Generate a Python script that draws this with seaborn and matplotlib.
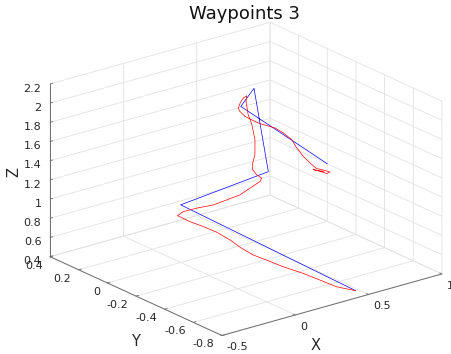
import numpy as np
import matplotlib
matplotlib.use("Agg")
import matplotlib.pyplot as plt
import seaborn as sns
from mpl_toolkits.mplot3d import proj3d

sns.set_theme(style="white")
plt.rcParams['font.family'] = ['DejaVu Sans']
plt.rcParams['axes.unicode_minus'] = False

# ---------------- data ----------------
title = "Waypoints 3"

# waypoints (blue)
wp_x = [0.48, 0.0, 0.5, 0.5, 0.41, 1.0]
wp_y = [-0.73, 0.0, -0.1, 0.0, 0.0, 0.0]
wp_z = [0.40, 1.0, 1.2, 2.0, 1.85, 1.0]

# flown trajectory (red)
tr_x = [0.48, 0.384, 0.329, 0.274, 0.195, 0.140, 0.093, 0.074, 0.068, 0.047,
        0.004, -0.044, -0.069, -0.020, 0.041, 0.107, 0.181, 0.256, 0.340, 0.423,
        0.448, 0.422, 0.410, 0.415, 0.431, 0.444, 0.443, 0.436, 0.437, 0.444,
        0.435, 0.411, 0.393, 0.404, 0.439, 0.529, 0.643, 0.700, 0.757, 0.791,
        0.836, 0.893, 0.927, 0.984, 1.018, 0.995, 0.961, 0.904, 0.936, 0.977]
tr_y = [-0.73, -0.696, -0.636, -0.575, -0.517, -0.457, -0.412, -0.350, -0.275, -0.204,
        -0.154, -0.110, -0.048, -0.039, -0.070, -0.119, -0.136, -0.152, -0.136, -0.121,
        -0.107, -0.098, -0.083, -0.078, -0.077, -0.064, -0.042, -0.025, -0.009, -0.006,
        0.009, 0.006, 0.000, 0.000, 0.0, 0.0, 0.0, 0.0, 0.0, 0.0,
        0.0, 0.0, 0.0, 0.0, 0.0, 0.0, 0.0, 0.0, 0.0, 0.0]
tr_z = [0.40, 0.458, 0.510, 0.562, 0.625, 0.677, 0.719, 0.755, 0.793, 0.834,
        0.877, 0.919, 0.950, 0.965, 0.996, 1.035, 1.067, 1.098, 1.122, 1.145,
        1.160, 1.200, 1.247, 1.311, 1.390, 1.532, 1.684, 1.769, 1.893, 1.950,
        1.920, 1.880, 1.840, 1.800, 1.733, 1.626, 1.526, 1.450, 1.356, 1.255,
        1.148, 1.038, 0.982, 0.937, 0.905, 0.901, 0.933, 0.981, 0.957, 0.930]

x_ticks = [-0.5, 0, 0.5, 1]
x_labels = ['-0.5', '0', '0.5', '1']
y_ticks = [-0.8, -0.6, -0.4, -0.2, 0, 0.2, 0.4]
y_labels = ['-0.8', '-0.6', '-0.4', '-0.2', '0', '0.2', '0.4']
z_ticks = [0.4, 0.6, 0.8, 1.0, 1.2, 1.4, 1.6, 1.8, 2.0, 2.2]
z_labels = ['0.4', '0.6', '0.8', '1', '1.2', '1.4', '1.6', '1.8', '2', '2.2']

# ---------------- figure ----------------
W, H = 452, 354
fig = plt.figure(figsize=(W / 100, H / 100), dpi=100)
fig.patch.set_facecolor('white')

S0 = 330.0
C0 = (246.0, H - 178.5)
ax = fig.add_axes([(C0[0] - S0 / 2) / W, (C0[1] - S0 / 2) / H, S0 / W, S0 / H],
                  projection='3d', proj_type='ortho')
ax.view_init(elev=21, azim=-128)
ax.set_box_aspect((1, 1, 0.663))

pal = sns.color_palette(['#0000ff', '#ff0000'])
ax.plot(wp_x, wp_y, wp_z, color=pal[0], lw=0.5)
ax.plot(tr_x, tr_y, tr_z, color=pal[1], lw=0.5)

ax.set_xlim(-0.5, 1.0)
ax.set_ylim(-0.8, 0.4)
ax.set_zlim(0.4, 2.2)
ax.set_xticks(x_ticks)
ax.set_xticklabels(x_labels, ha='left')
ax.set_yticks(y_ticks)
ax.set_yticklabels(y_labels, ha='right', va='center_baseline')
ax.set_zticks(z_ticks)
ax.set_zticklabels(z_labels, ha='right')

txt = '#262626'
gridc = '#e2e2e2'
axc = '#6e6e6e'
for axis in (ax.xaxis, ax.yaxis, ax.zaxis):
    axis.set_pane_color((1, 1, 1, 0))
    axis.pane.set_edgecolor(gridc)
    axis.pane.set_linewidth(0.6)
    axis.line.set_color(axc)
    axis.line.set_linewidth(0.7)
    axis._axinfo['grid'].update(color=gridc, linewidth=0.6)
    axis._axinfo['tick'].update(inward_factor=0.0, outward_factor=0.15,
                                color=axc, linewidth={True: 0.6, False: 0.4})
    axis.set_tick_params(labelsize=8, labelcolor=txt, color=axc, width=0.6)
ax.xaxis.set_tick_params(pad=-3.6)
ax.yaxis.set_tick_params(pad=-2.7)
ax.zaxis.set_tick_params(pad=-4.5)
ax.grid(True)

# axis titles
fig.text(316 / W, 1 - 345 / H, 'X', ha='center', va='center', fontsize=10.5, color=txt)
fig.text(135 / W, 1 - 341 / H, 'Y', ha='center', va='center', fontsize=10.5, color=txt)
fig.text(14 / W, 1 - 172 / H, 'Z', ha='center', va='center', fontsize=10.5, color=txt,
         rotation=90)

fig.text(245 / W, 1 - 14 / H, title, ha='center', va='center', fontsize=13, color='#111111')

# fit the drawn box onto the reference box corners (layout only)
fig.canvas.draw()
cx = np.array([-0.5, -0.5, 1.0, -0.5])
cy = np.array([0.4, -0.8, -0.8, 0.4])
cz = np.array([0.4, 0.4, 0.4, 2.2])
tgt = np.array([[50, 257], [222, 335], [442, 274], [50, 84]], dtype=float)
tgt[:, 1] = H - tgt[:, 1]
px, py, _ = proj3d.proj_transform(cx, cy, cz, ax.get_proj())
disp = ax.transData.transform(np.column_stack([px, py]))
u = (disp - np.array(C0)) / S0
A = []
b = []
for i in range(4):
    A.append([1, 0, u[i, 0]]); b.append(tgt[i, 0])
    A.append([0, 1, u[i, 1]]); b.append(tgt[i, 1])
sol = np.linalg.lstsq(np.array(A), np.array(b), rcond=None)[0]
Cx, Cy, S = sol
ax.set_position([(Cx - S / 2) / W, (Cy - S / 2) / H, S / W, S / H])

fig.savefig('out.png', dpi=100, facecolor='white')
